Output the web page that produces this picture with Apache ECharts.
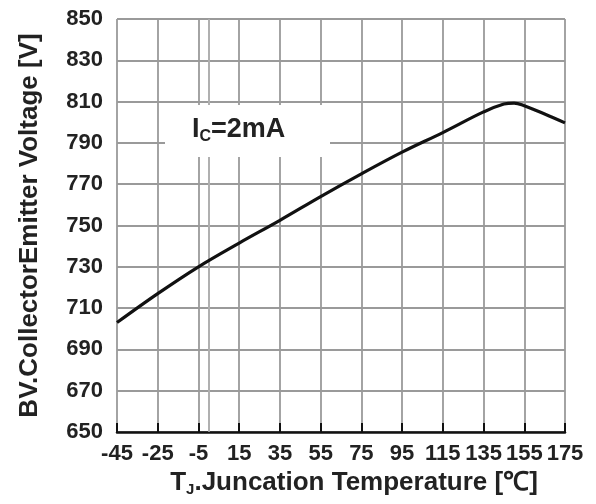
<!DOCTYPE html>
<html>
<head>
<meta charset="utf-8">
<script src="https://cdn.jsdelivr.net/npm/echarts@6/dist/echarts.min.js"></script>
<style>
  html, body { margin: 0; padding: 0; background: #fff; }
  #chart { width: 596px; height: 504px; }
</style>
</head>
<body>
<div id="chart"></div>
<script>
// junction temperature (°C) and breakdown voltage (V)
const tempC = [-45, -25, -5, 15, 35, 55, 75, 95, 115, 135, 145, 150, 155, 165, 175]
const bvVolt = [703, 717, 730, 741.5, 752.5, 764, 775, 785.5, 795, 805, 808.8, 809.3, 808, 804, 799.7]

const xTicks = [-45, 175, 20]
const yTicks = [650, 850, 20]

const FONT = '"Liberation Sans", Arial, sans-serif'
const GRID_COLOR = '#9a9a9a'

const chart = echarts.init(document.getElementById('chart'), null, { renderer: 'canvas' })

const curve = tempC.map((t, i) => [t, bvVolt[i]])

chart.setOption({
  animation: false,
  backgroundColor: '#fff',
  textStyle: { fontFamily: FONT },
  grid: { left: 117, right: 31, top: 19, bottom: 72 },
  xAxis: {
    type: 'value',
    min: xTicks[0],
    max: xTicks[1],
    interval: xTicks[2],
    name: '{t|T}{s|J}{t|.Juncation Temperature [℃]}',
    nameLocation: 'middle',
    nameGap: 36,
    nameTextStyle: {
      padding: [0, 0, 0, 26],
      rich: {
        t: { fontFamily: FONT, fontWeight: 'bold', fontSize: 26, color: '#222' },
        s: { fontFamily: FONT, fontWeight: 'bold', fontSize: 15, color: '#222', padding: [14, 0, 0, 0] }
      }
    },
    axisLine: { show: true, onZero: false, lineStyle: { color: '#111', width: 2.5 } },
    axisTick: { show: true, inside: true, length: 9, lineStyle: { color: '#111', width: 2 } },
    axisLabel: { margin: 11, fontFamily: FONT, fontWeight: 'bold', fontSize: 22, color: '#222' },
    splitLine: { show: true, lineStyle: { color: GRID_COLOR, width: 1.8 } }
  },
  yAxis: {
    type: 'value',
    min: yTicks[0],
    max: yTicks[1],
    interval: yTicks[2],
    name: 'BV.CollectorEmitter Voltage [V]',
    nameLocation: 'middle',
    nameGap: 74,
    nameTextStyle: { fontFamily: FONT, fontWeight: 'bold', fontSize: 26, color: '#222' },
    axisLine: { show: true, lineStyle: { color: GRID_COLOR, width: 1.8 } },
    axisTick: { show: false },
    axisLabel: { margin: 14, fontFamily: FONT, fontWeight: 'bold', fontSize: 22, color: '#222' },
    splitLine: { show: true, lineStyle: { color: GRID_COLOR, width: 1.8 } }
  },
  series: [
    {
      type: 'line',
      data: curve,
      smooth: 0.35,
      showSymbol: false,
      lineStyle: { color: '#111', width: 3.2 },
      markLine: {
        silent: true,
        symbol: 'none',
        label: { show: false },
        lineStyle: { color: '#b5b5b5', width: 1.5, type: 'solid' },
        data: [{ xAxis: 0 }]
      },
      z: 5
    }
  ],
  graphic: [
    {
      type: 'rect',
      z: 10,
      shape: { x: 165, y: 105, width: 165, height: 52 },
      style: { fill: '#fff' }
    },
    {
      type: 'text',
      z: 11,
      x: 192,
      y: 115,
      style: {
        text: '{t|I}{s|C}{t|=2mA}',
        rich: {
          t: { fontFamily: FONT, fontWeight: 'bold', fontSize: 27, fill: '#222' },
          s: { fontFamily: FONT, fontWeight: 'bold', fontSize: 16, fill: '#222', padding: [14, 0, 0, 0] }
        }
      }
    }
  ]
})

window.addEventListener('resize', () => chart.resize())
</script>
</body>
</html>
